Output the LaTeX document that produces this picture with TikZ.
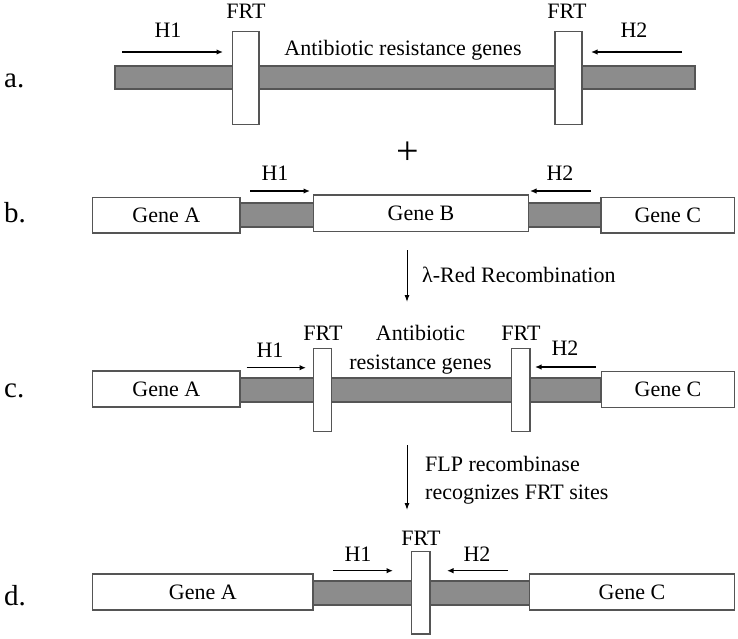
\documentclass[tikz,border=0pt]{standalone}
\usepackage{fontspec}
\setmainfont{Liberation Serif}
\usetikzlibrary{arrows.meta}
\definecolor{barfill}{RGB}{140,140,140}
\definecolor{edge}{RGB}{85,85,85}
\tikzset{
    box/.style={draw=edge, line width=1.2pt, fill=white, inner sep=0pt, minimum height=36pt, font=\fontsize{22}{24}\selectfont},
    linker/.style={draw=edge, line width=1.2pt, fill=barfill, inner sep=0pt, minimum height=23pt},
    frt/.style={draw=edge, line width=1.2pt, fill=white, inner sep=0pt},
    txt/.style={inner sep=0pt, font=\fontsize{22}{24}\selectfont},
    letter/.style={inner sep=0pt, anchor=base west, font=\fontsize{29}{30}\selectfont},
    harrow/.style={line width=1.4pt, -{Latex[length=6.5pt,width=5.5pt]}},
    flow/.style={line width=1pt, -{Latex[length=7pt,width=5pt]}}
}
\begin{document}
\begin{tikzpicture}[x=1pt,y=-1pt]
\useasboundingbox (0,0) rectangle (738,638);
% a.
\node[letter] (la) at (4,87) {a.};
\node[linker, minimum width=580pt] (bara) at (405,77.5) {};
\node[frt, minimum width=26.5pt, minimum height=93pt] (frta1) at (245.8,78.3) {};
\node[frt, minimum width=27pt, minimum height=93pt] (frta2) at (568.5,78.3) {};
\node[txt] (frtla1) at (246,11) {FRT};
\node[txt] (frtla2) at (567,11) {FRT};
\node[txt] (h1a) at (168,30) {H1};
\node[txt] (h2a) at (634,30) {H2};
\node[txt, anchor=base] (abra) at (403,55) {Antibiotic resistance genes};
\coordinate (h1as) at (122,52);
\coordinate (h1ae) at (223,52);
\coordinate (h2as) at (682,52);
\coordinate (h2ae) at (591,52);
\draw[harrow] (h1as) -- (h1ae);
\draw[harrow] (h2as) -- (h2ae);
\node[inner sep=0pt, font=\fontsize{40}{40}\selectfont] (plus) at (408,153) {+};
% b.
\node[letter] (lb) at (4,222) {b.};
\node[linker, minimum width=74pt, minimum height=24pt] (barb1) at (276.5,215) {};
\node[linker, minimum width=73pt, minimum height=24pt] (barb2) at (564.7,215) {};
\node[box, minimum width=147.3pt, minimum height=35.3pt] (geneab) at (166.3,215.3) {Gene A};
\node[box, minimum width=215.2pt, minimum height=36.7pt] (geneb) at (421,213.3) {Gene B};
\node[box, minimum width=133.7pt, minimum height=35.3pt] (genecb) at (667.8,215.3) {Gene C};
\node[txt] (h1b) at (275,173) {H1};
\node[txt] (h2b) at (560,173) {H2};
\coordinate (h1bs) at (250,191);
\coordinate (h1be) at (310,191);
\coordinate (h2bs) at (591,191);
\coordinate (h2be) at (530,191);
\draw[harrow] (h1bs) -- (h1be);
\draw[harrow] (h2bs) -- (h2be);
% recombination
\coordinate (reds) at (407,250);
\coordinate (rede) at (407,302);
\draw[flow] (reds) -- (rede);
\node[txt, anchor=west] (red) at (422,275) {λ-Red Recombination};
% c.
\node[letter] (lc) at (4,397) {c.};
\node[linker, minimum width=361pt, minimum height=24pt] (barc) at (420.5,390) {};
\node[box, minimum width=147.3pt] (geneac) at (166.3,389) {Gene A};
\node[box, minimum width=133.4pt] (genecc) at (668,389.5) {Gene C};
\node[frt, minimum width=18.4pt, minimum height=83.5pt] (frtc1) at (322.5,390) {};
\node[frt, minimum width=18.5pt, minimum height=83pt] (frtc2) at (520.7,390) {};
\node[txt] (frtlc1) at (323,333) {FRT};
\node[txt] (frtlc2) at (521,333) {FRT};
\node[txt, align=center, font=\fontsize{22}{28.7}\selectfont] (abrc) at (420.5,349.5) {Antibiotic\\resistance genes};
\node[txt] (h1c) at (270,350) {H1};
\node[txt] (h2c) at (565,348) {H2};
\coordinate (h1cs) at (246.7,367.7);
\coordinate (h1ce) at (306,367.7);
\coordinate (h2cs) at (596,367);
\coordinate (h2ce) at (535,367);
\draw[harrow] (h1cs) -- (h1ce);
\draw[harrow] (h2cs) -- (h2ce);
% excision
\coordinate (flps) at (407,445);
\coordinate (flpe) at (407,510);
\draw[flow] (flps) -- (flpe);
\node[txt, anchor=west, align=left, font=\fontsize{22}{28.5}\selectfont] (flp) at (425,480) {FLP recombinase\\recognizes FRT sites};
% d.
\node[letter] (ld) at (4,605) {d.};
\node[linker, minimum width=216pt, minimum height=24pt] (bard) at (421.3,593) {};
\node[box, minimum width=220.3pt] (genead) at (202.8,592) {Gene A};
\node[box, minimum width=205.4pt] (genecd) at (632,592) {Gene C};
\node[frt, minimum width=18.3pt, minimum height=82.3pt] (frtd) at (420.8,592.8) {};
\node[txt] (frtld) at (421,538) {FRT};
\node[txt] (h1d) at (358,554) {H1};
\node[txt] (h2d) at (477,554) {H2};
\coordinate (h1ds) at (333,570.7);
\coordinate (h1de) at (393,570.7);
\coordinate (h2ds) at (508,570.7);
\coordinate (h2de) at (447,570.7);
\draw[harrow] (h1ds) -- (h1de);
\draw[harrow] (h2ds) -- (h2de);
\end{tikzpicture}
\end{document}
